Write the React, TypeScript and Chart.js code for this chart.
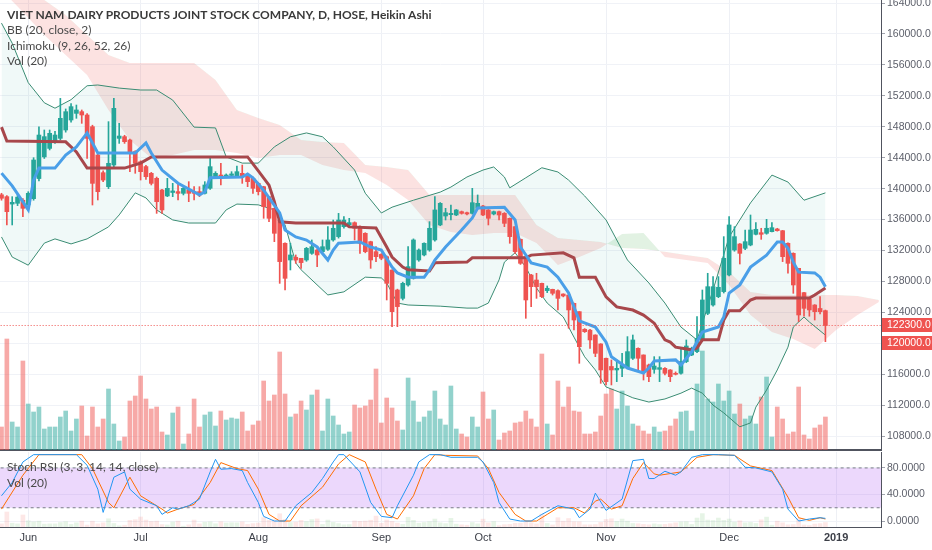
import React, { useEffect, useRef } from 'react';
import { Chart, registerables } from 'chart.js';

Chart.register(...registerables);

// ---------- Heikin Ashi candles (VNM, daily, 25 May 2018 -> 28 Dec 2018) ----------
const haOpen = [
  139200,138960,138000,138100,138500,137900,138700,141300,144100,145200,
  146070,146500,147580,148870,149730,149950,149520,148010,144350,142060,
  140250,143050,146500,146720,146290,144780,143480,142850,141980,141330,
  139820,139050,139500,139610,139390,139820,139610,139610,139390,140040,
  141460,141760,141550,141700,141550,141980,141760,141330,140680,140250,
  138960,137450,135940,132930,130770,131120,130990,130770,131630,132060,
  131850,132150,133360,133790,135080,135300,135600,135080,134220,133140,
  131850,131500,131200,129470,126890,125810,127540,128400,130770,131420,
  132060,133360,135300,136460,136630,136590,137020,136890,136800,137450,
  137750,137240,136720,137020,136800,136160,135080,133440,131200,128830,
  128180,127750,126810,126980,126810,126370,126240,125170,124090,121810,
  121700,121070,119910,118060,117000,116550,116760,116980,118060,119350,
  118490,117200,116630,116630,116760,116550,116120,116120,117630,118490,
  118920,120430,123870,124950,126030,126680,128830,132060,132840,132280,
  132710,134090,134300,134220,134430,134780,134560,132930,131630,129690,
  126550,125680,124950,124500,124220,
];
const haHigh = [
  139400,139100,138960,139200,138700,139600,144000,148000,147580,147580,
  147400,151670,150300,151000,150810,150170,149700,148200,144500,142300,
  148660,151670,148440,146900,146400,144900,143600,143000,142100,141500,
  139900,141330,140680,140680,140250,140900,140250,140250,140900,144130,
  142190,143270,141900,142190,142920,143050,141900,141500,140800,140300,
  139000,137500,136000,133000,132930,131420,131000,132400,133360,132200,
  133360,135080,135940,136800,136370,136160,135700,135200,134300,133200,
  132490,131600,131300,129500,127000,127900,132490,133500,132200,133000,
  135730,138960,138200,137450,137880,137300,137100,136950,140040,139180,
  137850,137300,137100,137100,136900,136200,135100,133500,131300,128900,
  129050,127800,127410,127000,126900,126400,126300,125200,124100,121900,
  121800,121100,119950,118100,117840,117840,118700,120860,121070,119400,
  118500,117300,118270,118270,116850,116600,116300,119350,120430,119500,
  123440,126890,129050,128620,128620,133790,136370,135080,132900,134650,
  136590,135600,134870,136030,135600,134870,134600,133000,131700,129700,
  126600,125700,125000,126030,124300,
];
const haLow = [
  138500,135300,135300,137800,136370,137240,138500,141000,143900,145000,
  145850,146300,147300,148600,149090,148440,143920,137880,138530,140900,
  140000,142800,145850,145850,142190,141980,141110,141200,140470,136800,
  136800,138960,138960,138530,139180,138310,138530,138960,139300,139900,
  141330,140470,141460,141600,141460,140680,140250,139390,139180,136160,
  135730,133140,127750,126890,129480,130340,129690,130600,131500,129910,
  131700,132000,133200,133600,134900,135200,133360,131630,131700,129690,
  130550,130800,125600,122150,122150,125600,127400,128300,130600,131300,
  131900,133200,135200,135940,135940,136500,136700,136600,136700,137350,
  136500,135300,136600,135940,135080,132930,131630,130200,123230,124740,
  125810,125900,126550,126240,124310,126000,121940,121720,117410,121400,
  119350,118270,114820,114610,114610,115040,115680,116900,117900,116550,
  115250,115040,116120,115040,115900,115040,115900,116000,117500,118400,
  118800,120300,123700,124800,125900,126500,128700,131900,130250,132100,
  132600,134000,133440,134100,134400,134500,130560,129050,126460,122800,
  123500,123500,123010,123800,120210,
];
const haClose = [
  138750,137020,138230,138900,137450,139390,143700,146930,146720,147150,
  146930,149090,149950,150600,150170,149520,146500,140680,139600,141110,
  143270,150380,146800,146070,144560,143270,142190,141540,140680,138310,
  137240,140040,139700,139390,140040,139390,139390,139180,140470,142840,
  141980,141460,141760,141900,142190,141550,140900,140040,139610,137670,
  136160,134220,130560,128400,131420,130770,130430,132280,132490,131420,
  132490,133360,134870,135940,135940,135600,134870,132930,131850,130770,
  131200,130990,127750,124090,124740,127750,129910,133360,132060,132930,
  134870,137240,138100,136890,136800,137240,136800,136720,138180,138100,
  136590,136160,137020,136590,135510,133790,131850,130340,125600,127320,
  127320,126030,127110,126460,125810,126120,124310,123010,119560,121500,
  120430,118700,116550,115040,116550,116760,117200,118920,120430,118060,
  116330,115680,117060,116850,116120,115680,115990,117630,119650,119350,
  120640,125600,127320,127320,127240,130990,135300,133790,131630,133140,
  134650,134740,134090,134870,134950,134560,131200,130340,127540,123660,
  124520,124310,124090,124090,122300,
];
// volume, thousand shares
const volume = [
  575,2775,700,575,2225,1150,950,1075,525,575,
  575,825,975,475,775,1100,350,1075,575,775,
  1525,650,225,325,1225,1350,1850,1275,1025,1075,
  450,375,925,1075,150,400,1275,575,875,950,
  600,975,750,800,775,950,475,625,725,1725,
  1225,1375,2450,1400,825,900,1225,1000,1375,1500,
  475,1275,850,625,400,450,1125,1050,1100,1250,
  2025,675,1300,1050,725,500,1800,1225,700,825,
  975,1475,775,625,1600,525,400,325,825,575,
  1450,775,1000,250,425,475,675,700,975,775,
  575,2400,650,375,1725,1075,1575,975,950,400,
  400,450,850,1400,1525,1025,1475,1100,650,600,
  475,400,575,450,475,600,775,950,975,475,
  1650,2475,1275,1200,1650,1225,1475,900,1150,775,
  850,650,1325,1825,325,1075,775,400,450,1575,
  375,275,550,625,825,
];

// ---------- indicators: [bar index, value] ----------
const bbUpper: [number, number][] = [
  [0,161400],[2,158800],[5,153700],[8,151100],[10,150400],[13,151500],[16,153300],[18,153400],
  [22,153000],[26,152750],[29,152750],[32,151450],[36,147950],[40,147850],[42,144100],[45,143300],
  [48,143300],[51,145400],[54,146700],[57,147200],[60,146700],[62,145400],[66,142400],[68,139400],
  [71,136850],[73,137600],[77,138500],[82,139550],[84,140200],[87,141500],[90,142400],[92,142800],
  [94,141500],[95,140100],[98,141400],[101,142700],[104,142150],[106,141100],[109,139050],[113,135950],
  [117,130770],[121,127800],[124,125200],[127,122100],[130,120430],[133,126900],[136,133750],[140,138150],
  [144,141750],[147,140850],[150,138500],[154,139450],
];
const bbLower: [number, number][] = [
  [0,133750],[2,131150],[5,130100],[8,132950],[10,133500],[13,132850],[16,133500],[20,135050],
  [22,136600],[25,139450],[27,138800],[29,137250],[32,135950],[35,135550],[40,135550],[42,137250],
  [44,138000],[48,137900],[51,137250],[53,135300],[55,130400],[56,129500],[61,126250],[64,126650],
  [68,128550],[71,128450],[72,127800],[74,125200],[76,124950],[82,124800],[87,124550],[89,124550],
  [91,125200],[93,128200],[94,130500],[96,131700],[98,129850],[100,127150],[102,125200],[105,123400],
  [107,120800],[109,118250],[111,116550],[113,114350],[116,113550],[118,112950],[121,112400],[124,112800],
  [127,113550],[129,114200],[131,113550],[133,112000],[135,111000],[138,109200],[140,109700],[141,111750],
  [143,113950],[145,116550],[147,119500],[148,122100],[150,123400],[151,122750],[154,121050],
];
const tenkan: [number, number][] = [
  [0,142000],[2,140350],[5,137250],[6,141100],[7,142650],[10,142650],[12,144350],[14,145400],
  [16,147200],[18,144600],[25,144600],[27,145900],[28,144600],[30,142400],[33,140700],[37,139200],
  [38,139560],[39,141400],[45,141500],[46,141900],[47,141400],[49,139800],[52,136850],[53,134650],
  [55,133750],[57,133350],[59,132450],[61,130770],[62,132050],[63,132950],[67,133100],[69,132450],
  [71,132050],[73,129850],[74,129100],[76,128550],[79,128550],[80,129500],[81,130770],[83,132450],
  [86,134650],[88,136200],[89,137500],[94,137600],[96,135950],[97,132450],[99,130400],[102,129850],
  [104,128550],[106,126500],[108,122900],[111,122100],[113,120150],[114,118250],[117,116800],[120,116150],
  [121,116800],[122,117700],[126,117850],[127,117200],[129,118900],[131,121450],[134,122100],[135,123400],
  [136,126500],[138,127550],[140,129850],[143,131400],[145,133100],[146,133100],[147,132300],[148,130500],
  [149,129200],[152,129100],[153,128550],[154,127300],
];
const kijun: [number, number][] = [
  [0,147950],[1,146150],[12,146050],[14,144750],[16,142650],[23,142650],[26,143300],[28,144100],
  [46,144100],[48,142300],[50,140450],[51,138300],[52,135700],[55,135550],[64,135550],[65,135050],
  [70,134900],[72,132450],[73,131150],[75,129850],[76,129500],[80,129350],[81,130400],[87,130500],
  [88,131050],[98,131050],[99,131400],[105,131700],[107,131050],[108,128550],[111,128550],[113,126000],
  [115,124700],[118,124300],[120,123650],[122,122600],[124,120450],[125,120150],[126,119500],[129,119150],
  [130,119400],[131,120450],[134,120450],[135,123000],[136,124200],[138,124200],[140,125600],[141,125850],
  [151,125850],[152,126250],[154,127150],
];
const senkouA: [number, number][] = [
  [0,165680],[4,162840],[8,159860],[12,157280],[16,154690],[20,150170],[24,146290],[28,143960],
  [32,144350],[36,144990],[40,144990],[44,144600],[48,143960],[52,144350],[56,144350],[60,143050],
  [64,142410],[68,142020],[72,140470],[76,138530],[80,135300],[84,134390],[88,134000],[92,134260],
  [96,134260],[100,132970],[104,130120],[108,131160],[112,132320],[116,134130],[120,134260],[124,131160],
  [128,130770],[132,130380],[136,127540],[140,123660],[144,121460],[148,120560],[152,119260],[156,121720],
  [160,123660],[164,125340],
];
const senkouB: [number, number][] = [
  [0,169560],[4,165680],[8,164390],[12,162450],[16,159860],[20,157280],[24,156240],[28,156240],
  [32,156240],[36,156240],[40,154040],[44,150170],[48,149130],[52,148230],[56,146290],[60,146030],
  [64,145900],[68,143050],[72,142800],[76,142410],[80,139180],[84,139180],[88,139180],[92,139180],
  [96,139180],[100,135300],[104,133620],[108,133360],[112,133100],[116,132320],[120,132190],[124,131840],
  [128,131420],[132,131030],[136,129220],[140,126630],[144,126240],[148,126240],[152,126240],[156,126240],
  [160,126120],[164,125600],
];
const stochK: [number, number][] = [
  [0,38],[2,58],[4,89],[6,100],[14,100],[16,84],[18,48],[19,13],[21,66],[23,74],[24,48],[26,33],
  [29,23],[30,10],[32,20],[33,18],[35,23],[37,33],[39,74],[40,93],[41,78],[43,79],[45,76],[46,58],
  [48,28],[49,7],[51,0],[53,0],[55,23],[58,43],[60,64],[62,89],[63,100],[64,100],[67,74],[69,28],
  [71,7],[73,5],[74,23],[77,69],[78,89],[80,100],[82,100],[84,96],[89,96],[90,89],[92,58],[93,28],
  [95,3],[97,0],[99,0],[101,10],[104,23],[107,18],[108,5],[110,18],[111,42],[113,16],[116,33],[118,91],
  [120,93],[121,64],[122,64],[124,75],[126,69],[127,74],[129,96],[131,100],[134,100],[137,99],[139,81],
  [141,80],[144,74],[146,48],[147,18],[149,0],[151,3],[153,5],[154,4],
];
const stochD: [number, number][] = [
  [0,18],[4,69],[7,100],[15,100],[17,79],[20,28],[21,20],[24,66],[26,38],[30,18],[31,12],[33,18],
  [36,25],[39,58],[41,88],[44,79],[46,76],[48,48],[50,10],[52,0],[54,0],[56,23],[60,51],[63,86],
  [65,100],[68,89],[70,48],[72,10],[74,3],[77,38],[79,79],[81,100],[83,99],[89,98],[91,79],[93,43],
  [96,10],[98,0],[100,0],[102,10],[104,20],[107,20],[109,12],[111,30],[112,33],[114,18],[116,23],
  [118,64],[120,88],[122,71],[123,69],[127,74],[130,96],[133,100],[137,99],[140,83],[144,76],[147,36],
  [149,5],[151,1],[153,5],[154,3],
];

// ---------- axes ----------
const monthIdx = [5, 26, 48, 71, 90, 113, 136, 156];
const monthLabels = ['Jun', 'Jul', 'Aug', 'Sep', 'Oct', 'Nov', 'Dec', '2019'];
const priceTicks = [108000,112000,116000,120000,124000,128000,132000,136000,140000,144000,148000,152000,156000,160000,164000];
const stochTicks = [0, 40, 80];
const stochBand = [20, 80];
const lastPrice = 122300;
const markPrice = 120000;

const X_MIN = -0.28;
const X_MAX = 164.39;
const Y_MIN = 106200;
const Y_MAX = 164390;
const VOL_MAX = 11250;
const VOL_MAX_LOWER = 13875;

const UP = '#26a69a';
const DOWN = '#ef5350';
const AXIS_FONT = 'Liberation Sans';

const toXY = (pairs: [number, number][]) => pairs.map(([x, y]) => ({ x, y }));

// remove the automatic label padding so the plot fills the pane exactly
const noPad = (s: any) => {
  s.paddingTop = 0;
  s.paddingBottom = 0;
  s.paddingLeft = 0;
  s.paddingRight = 0;
};

const axisBoxes = {
  id: 'axisBoxes',
  afterDraw(chart: any) {
    const { ctx } = chart;
    const y = chart.scales.y;
    [lastPrice, markPrice].forEach((v) => {
      const py = Math.round(y.getPixelForValue(v));
      ctx.save();
      ctx.fillStyle = DOWN;
      ctx.fillRect(y.left + 1, py - 7, chart.width - y.left - 1, 14);
      ctx.fillStyle = '#ffffff';
      ctx.font = `10.5px "${AXIS_FONT}"`;
      ctx.textBaseline = 'middle';
      ctx.textAlign = 'left';
      ctx.fillText(v.toFixed(1), y.left + 6, py + 0.5);
      ctx.restore();
    });
  },
};

export default function App() {
  const mainRef = useRef<HTMLCanvasElement>(null);
  const lowRef = useRef<HTMLCanvasElement>(null);

  useEffect(() => {
    const idx = haOpen.map((_, i) => i);
    const up = (i: number) => haClose[i] >= haOpen[i];

    const main = new Chart(mainRef.current as HTMLCanvasElement, {
      type: 'line',
      data: {
        datasets: [
          { type: 'line', label: 'Conversion', data: toXY(tenkan), borderColor: '#4a9fe8', borderWidth: 3, order: 1 },
          { type: 'line', label: 'Base', data: toXY(kijun), borderColor: '#a8474b', borderWidth: 3, order: 2 },
          { type: 'line', label: 'Last', data: [{ x: X_MIN - 1, y: lastPrice }, { x: X_MAX + 1, y: lastPrice }], borderColor: DOWN, borderWidth: 1, borderDash: [1, 2], order: 0 },
          { type: 'bar', label: 'Body', data: idx.map((i) => ({ x: i, y: [haOpen[i], haClose[i]] })), backgroundColor: idx.map((i) => (up(i) ? UP : DOWN)), barThickness: 4, grouped: false, minBarLength: 1, order: 4 },
          { type: 'bar', label: 'Wick', data: idx.map((i) => ({ x: i, y: [haLow[i], haHigh[i]] })), backgroundColor: idx.map((i) => (up(i) ? UP : DOWN)), barThickness: 1, grouped: false, order: 5 },
          { type: 'line', label: 'BB upper', data: toXY(bbUpper), borderColor: '#3a8c73', borderWidth: 1, fill: { target: '+1', above: 'rgba(38,166,154,0.07)', below: 'rgba(38,166,154,0.07)' }, order: 7 },
          { type: 'line', label: 'BB lower', data: toXY(bbLower), borderColor: '#3a8c73', borderWidth: 1, fill: false, order: 7 },
          { type: 'line', label: 'Lead 1', data: toXY(senkouA), borderColor: 'rgba(0,0,0,0)', borderWidth: 0, fill: { target: '+1', above: 'rgba(76,175,80,0.16)', below: 'rgba(239,83,80,0.17)' }, order: 8 },
          { type: 'line', label: 'Lead 2', data: toXY(senkouB), borderColor: 'rgba(0,0,0,0)', borderWidth: 0, fill: false, order: 8 },
          { type: 'bar', label: 'Volume', yAxisID: 'yv', data: idx.map((i) => ({ x: i, y: volume[i] })), backgroundColor: idx.map((i) => (up(i) ? 'rgba(38,166,154,0.5)' : 'rgba(239,83,80,0.5)')), barThickness: 4, grouped: false, order: 9 },
        ] as any,
      },
      options: {
        animation: false,
        responsive: false,
        devicePixelRatio: 1,
        events: [],
        layout: { padding: 0, autoPadding: false } as any,
        elements: { point: { radius: 0 }, line: { tension: 0 } },
        plugins: { legend: { display: false }, tooltip: { enabled: false }, filler: { drawTime: 'beforeDatasetsDraw' } } as any,
        scales: {
          x: {
            type: 'linear', min: X_MIN, max: X_MAX, offset: false,
            grid: { offset: false, color: '#eef0f5', drawTicks: false },
            ticks: { display: false },
            border: { display: true, color: '#50535e', width: 2 },
            afterBuildTicks: (s: any) => { s.ticks = monthIdx.map((v) => ({ value: v })); },
            afterFit: (s: any) => { s.height = 2; noPad(s); },
          },
          y: {
            position: 'right', min: Y_MIN, max: Y_MAX,
            grid: { color: '#f0f2f7', tickColor: '#a0a3ad', tickLength: 4 },
            border: { color: '#50535e', width: 1 },
            ticks: { color: '#5d606b', font: { family: AXIS_FONT, size: 10.5 }, padding: 2, callback: (v: any) => Number(v).toFixed(1) },
            afterBuildTicks: (s: any) => { s.ticks = priceTicks.map((v) => ({ value: v })); },
            afterFit: (s: any) => { s.width = 51; noPad(s); },
          },
          yv: { display: false, min: 0, max: VOL_MAX, afterFit: noPad },
        } as any,
      },
      plugins: [axisBoxes],
    });

    const low = new Chart(lowRef.current as HTMLCanvasElement, {
      type: 'line',
      data: {
        datasets: [
          { type: 'line', label: 'K', data: toXY(stochK), borderColor: '#2196f3', borderWidth: 1, order: 1 },
          { type: 'line', label: 'D', data: toXY(stochD), borderColor: '#ff6d00', borderWidth: 1, order: 2 },
          { type: 'line', label: 'Upper band', data: [{ x: X_MIN - 1, y: stochBand[1] }, { x: X_MAX + 1, y: stochBand[1] }], borderColor: '#787b86', borderWidth: 1, borderDash: [3, 3], fill: { target: '+1', above: 'rgba(160,60,240,0.2)', below: 'rgba(160,60,240,0.2)' }, order: 3 },
          { type: 'line', label: 'Lower band', data: [{ x: X_MIN - 1, y: stochBand[0] }, { x: X_MAX + 1, y: stochBand[0] }], borderColor: '#787b86', borderWidth: 1, borderDash: [3, 3], fill: false, order: 3 },
          { type: 'bar', label: 'Volume', yAxisID: 'yv2', data: haOpen.map((_, i) => ({ x: i, y: volume[i] })), backgroundColor: haOpen.map((_, i) => (haClose[i] >= haOpen[i] ? 'rgba(76,175,80,0.14)' : 'rgba(239,83,80,0.14)')), barThickness: 4, grouped: false, order: 5 },
        ] as any,
      },
      options: {
        animation: false,
        responsive: false,
        devicePixelRatio: 1,
        events: [],
        layout: { padding: 0, autoPadding: false } as any,
        elements: { point: { radius: 0 }, line: { tension: 0 } },
        plugins: { legend: { display: false }, tooltip: { enabled: false }, filler: { drawTime: 'beforeDatasetsDraw' } } as any,
        scales: {
          x: {
            type: 'linear', min: X_MIN, max: X_MAX, offset: false,
            grid: { offset: false, color: '#eef0f5', drawTicks: false },
            border: { display: true, color: '#50535e', width: 1 },
            ticks: {
              color: '#3c3f48', padding: 4, maxRotation: 0, autoSkip: false,
              font: (ctx: any) => ({ family: AXIS_FONT, size: 11, weight: ctx.index === monthLabels.length - 1 ? 'bold' : 'normal' }),
              callback: (_v: any, i: number) => monthLabels[i],
            },
            afterBuildTicks: (s: any) => { s.ticks = monthIdx.map((v) => ({ value: v })); },
            afterFit: (s: any) => { s.height = 23; noPad(s); },
          },
          y: {
            position: 'right', min: -9, max: 104,
            grid: { color: '#f0f2f7', tickColor: '#a0a3ad', tickLength: 4 },
            border: { color: '#50535e', width: 1 },
            ticks: { color: '#5d606b', font: { family: AXIS_FONT, size: 10.5 }, padding: 2, callback: (v: any) => Number(v).toFixed(4) },
            afterBuildTicks: (s: any) => { s.ticks = stochTicks.map((v) => ({ value: v })); },
            afterFit: (s: any) => { s.width = 51; noPad(s); },
          },
          yv2: { display: false, min: 0, max: VOL_MAX_LOWER, afterFit: noPad },
        } as any,
      },
    });

    return () => { main.destroy(); low.destroy(); };
  }, []);

  const legendFont = 'Lato, "Open Sans", sans-serif';
  return (
    <div style={{ position: 'fixed', left: 0, top: 0, width: 932, height: 550, background: '#ffffff', overflow: 'hidden' }}>
      <canvas ref={mainRef} width={932} height={452} style={{ position: 'absolute', left: 0, top: 0 }} />
      <canvas ref={lowRef} width={932} height={98} style={{ position: 'absolute', left: 0, top: 452 }} />
      <div style={{ position: 'absolute', left: 7, top: 7, fontFamily: legendFont, fontSize: 12, lineHeight: '15.3px', color: '#4a4a4a', whiteSpace: 'nowrap', pointerEvents: 'none' }}>
        <div style={{ fontWeight: 'bold', color: '#3a3a3a' }}>VIET NAM DAIRY PRODUCTS JOINT STOCK COMPANY, D, HOSE, Heikin Ashi</div>
        <div>BB (20, close, 2)</div>
        <div>Ichimoku (9, 26, 52, 26)</div>
        <div>Vol (20)</div>
      </div>
      <div style={{ position: 'absolute', left: 7, top: 459, fontFamily: legendFont, fontSize: 12, lineHeight: '16px', color: '#4a4a4a', whiteSpace: 'nowrap', pointerEvents: 'none' }}>
        <div>Stoch RSI (3, 3, 14, 14, close)</div>
        <div>Vol (20)</div>
      </div>
    </div>
  );
}
